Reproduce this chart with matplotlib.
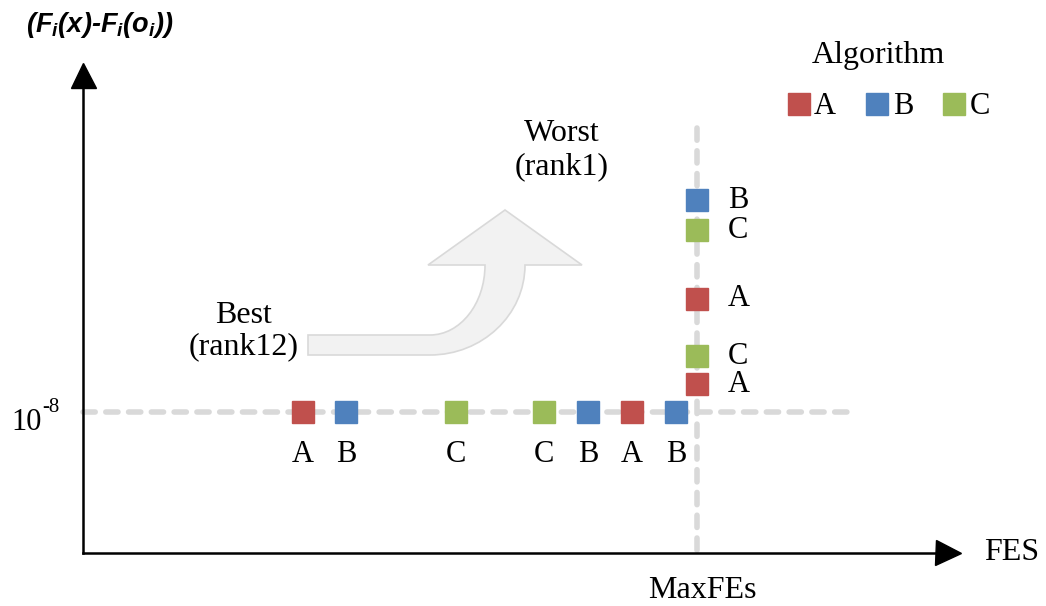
import matplotlib.pyplot as plt
from matplotlib.path import Path
from matplotlib.patches import PathPatch
from matplotlib.lines import Line2D

# colores de cada algoritmo
colores = {'A': '#c0504d', 'B': '#4f81bd', 'C': '#9bbb59'}
algoritmos = ['A', 'B', 'C']

# nivel 10^-8 (linea horizontal) y MaxFEs (linea vertical), en unidades del esquema
nivel_y = 412
maxfes_x = 697

# puntos que llegan a 10^-8 antes de MaxFEs
horiz_x = [303, 346, 456, 544, 588, 632, 676]
horiz_alg = ['A', 'B', 'C', 'C', 'B', 'A', 'B']

# puntos que no llegan, evaluados en MaxFEs
vert_y = [200, 230, 299, 356, 384]
vert_alg = ['B', 'C', 'A', 'C', 'A']

serif = 'Liberation Serif'
gris = '#d9d9d9'

fig = plt.figure(figsize=(10.46, 6.06), dpi=100)
ax = fig.add_axes([0, 0, 1, 1])
ax.set_xlim(0, 1046)
ax.set_ylim(606, 0)
ax.axis('off')

# lineas guia discontinuas
ax.plot([83, 855], [nivel_y, nivel_y], color=gris, lw=4, linestyle=(0, (2.2, 1.9)),
        dash_capstyle='round', zorder=1)
ax.plot([maxfes_x, maxfes_x], [128, 556], color=gris, lw=4, linestyle=(0, (2.2, 1.9)),
        dash_capstyle='round', zorder=1)

# ejes con flechas
ax.plot([83, 83], [553, 85], color='black', lw=1.8, zorder=3)
ax.plot([83, 940], [553, 553], color='black', lw=1.8, zorder=3)
ax.plot(83, 75, marker='^', ms=18, color='black', zorder=4)
ax.plot(948, 553, marker='>', ms=18, color='black', zorder=4)

# flecha curva gris (de Best a Worst)
verts = [(308, 355), (430, 355), (482, 355), (525, 315), (525, 265),
         (582, 265), (505, 210), (428, 265), (485, 265),
         (485, 304), (460, 335), (430, 335), (308, 335), (308, 355)]
codes = [Path.MOVETO, Path.LINETO, Path.CURVE4, Path.CURVE4, Path.CURVE4,
         Path.LINETO, Path.LINETO, Path.LINETO, Path.LINETO,
         Path.CURVE4, Path.CURVE4, Path.CURVE4, Path.LINETO, Path.CLOSEPOLY]
ax.add_patch(PathPatch(Path(verts, codes), facecolor='#f2f2f2', edgecolor=gris, lw=1.2, zorder=2))

# marcadores sobre la linea 10^-8
for x, a in zip(horiz_x, horiz_alg):
    ax.plot(x, nivel_y, marker='s', ms=16, color=colores[a], mec=colores[a], zorder=5)
    ax.text(x, 454, a, fontsize=22, family=serif, ha='center', va='center')

# marcadores sobre MaxFEs
for y, a in zip(vert_y, vert_alg):
    ax.plot(maxfes_x, y, marker='s', ms=16, color=colores[a], mec=colores[a], zorder=5)
    ax.text(728, y, a, fontsize=22, family=serif, ha='left', va='center')

# textos
ax.text(100, 25, r'$\mathregular{(F_i(x)}$-$\mathregular{F_i(o_i))}$', fontsize=19.5,
        family='Liberation Sans', weight='bold', style='italic', ha='center', va='center')
ax.text(42, 422, '10', fontsize=22, family=serif, ha='right', va='center')
ax.text(42, 408, '-8', fontsize=15, family=serif, ha='left', va='center')
ax.text(1012, 553, 'FES', fontsize=23, family=serif, ha='center', va='center')
ax.text(702, 590, 'MaxFEs', fontsize=23, family=serif, ha='center', va='center')
ax.text(244, 331, 'Best\n(rank12)', fontsize=23, family=serif, ha='center', va='center',
        linespacing=1.1)
ax.text(562, 150, 'Worst\n(rank1)', fontsize=23, family=serif, ha='center', va='center',
        linespacing=1.2)
ax.text(878, 55, 'Algorithm', fontsize=23, family=serif, ha='center', va='center')

# leyenda
handles = [Line2D([], [], marker='s', ms=16, color=colores[a], linestyle='none') for a in algoritmos]
ax.legend(handles, algoritmos, loc='center', bbox_to_anchor=(889 / 1046, 1 - 107 / 606),
          ncol=3, frameon=False, prop={'family': serif, 'size': 22}, handlelength=0.7,
          handletextpad=0.15, columnspacing=1.0)

fig.savefig('out.png', dpi=100)
